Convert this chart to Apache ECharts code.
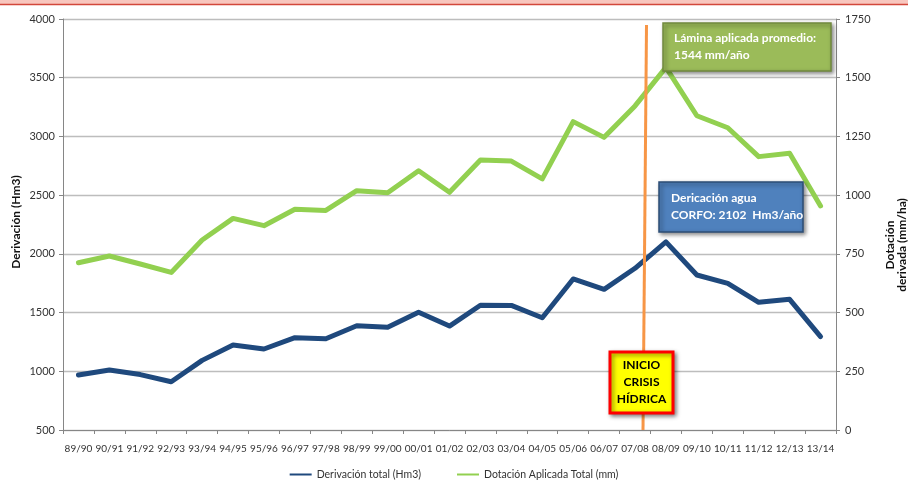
<!DOCTYPE html>
<html>
<head>
<meta charset="utf-8">
<script src="https://cdn.jsdelivr.net/npm/echarts@6/dist/echarts.min.js"></script>
<style>
  html, body { margin: 0; padding: 0; background: #fff; }
  #chart { width: 908px; height: 491px; }
</style>
</head>
<body>
<div id="chart"></div>
<script>
const seasons = [
  '89/90', '90/91', '91/92', '92/93', '93/94', '94/95', '95/96', '96/97', '97/98',
  '98/99', '99/00', '00/01', '01/02', '02/03', '03/04', '04/05', '05/06', '06/07',
  '07/08', '08/09', '09/10', '10/11', '11/12', '12/13', '13/14'
];
// Derivación total (Hm3), left axis
const derivacion = [
  968, 1011, 972, 911, 1093, 1224, 1190, 1286, 1277, 1388, 1374, 1502, 1385,
  1562, 1561, 1456, 1786, 1698, 1877, 2102, 1820, 1749, 1587, 1613, 1295
];
// Dotación Aplicada Total (mm), right axis
const dotacion = [
  712, 741, 707, 671, 809, 901, 870, 940, 935, 1019, 1010, 1104, 1012,
  1150, 1145, 1069, 1313, 1246, 1380, 1544, 1338, 1287, 1164, 1178, 954
];

const font = 'Lato, "Open Sans", sans-serif';
const chart = echarts.init(document.getElementById('chart'));

const shadow = {
  shadowBlur: 4,
  shadowOffsetX: 2,
  shadowOffsetY: 2,
  shadowColor: 'rgba(0,0,0,0.45)'
};

const option = {
  animation: false,
  textStyle: { fontFamily: font },
  grid: { left: 63, right: 72, top: 19, bottom: 61 },
  legend: {
    bottom: 6,
    left: 'center',
    icon: 'rect',
    itemWidth: 22,
    itemHeight: 2,
    itemGap: 36,
    textStyle: { fontSize: 10.5, color: '#333', fontFamily: font }
  },
  xAxis: {
    type: 'category',
    data: seasons,
    boundaryGap: true,
    axisLine: { lineStyle: { color: '#868686', width: 1 } },
    axisTick: { show: true, length: 4, lineStyle: { color: '#868686' } },
    axisLabel: { color: '#333', fontSize: 10, margin: 14, interval: 0 }
  },
  yAxis: [
    {
      type: 'value',
      min: 500,
      max: 4000,
      interval: 500,
      axisLine: { show: true, lineStyle: { color: '#868686' } },
      axisTick: { show: true, length: 4, lineStyle: { color: '#868686' } },
      axisLabel: { color: '#333', fontSize: 11, margin: 8, formatter: v => String(v) },
      splitLine: { lineStyle: { color: '#BDBDBD', width: 1.3 } }
    },
    {
      type: 'value',
      min: 0,
      max: 1750,
      interval: 250,
      position: 'right',
      axisLine: { show: true, lineStyle: { color: '#868686' } },
      axisTick: { show: true, length: 4, lineStyle: { color: '#868686' } },
      axisLabel: { color: '#333', fontSize: 11, margin: 9, formatter: v => String(v) },
      splitLine: { show: false }
    }
  ],
  series: [
    {
      name: 'Derivación total (Hm3)',
      type: 'line',
      yAxisIndex: 0,
      data: derivacion,
      symbol: 'none',
      lineStyle: { color: '#1F497D', width: 5, cap: 'round', join: 'round' },
      itemStyle: { color: '#1F497D' }
    },
    {
      name: 'Dotación Aplicada Total (mm)',
      type: 'line',
      yAxisIndex: 1,
      data: dotacion,
      symbol: 'none',
      lineStyle: { color: '#92D050', width: 5, cap: 'round', join: 'round' },
      itemStyle: { color: '#92D050' }
    }
  ],
  graphic: [
    // top banner strip
    { type: 'rect', left: 0, top: 0, shape: { width: 908, height: 4 }, style: { fill: '#F8C6BE' }, z: 100 },
    { type: 'line', shape: { x1: 0, y1: 4.5, x2: 908, y2: 4.5 }, style: { stroke: '#D2473B', lineWidth: 1.5 }, z: 100 },
    // axis titles
    {
      type: 'text', x: 16, y: 222, rotation: Math.PI / 2, z: 100,
      style: { text: 'Derivación (Hm3)', fontFamily: font, fontSize: 12, fontWeight: 'bold', fill: '#111', align: 'center', verticalAlign: 'middle' }
    },
    {
      type: 'text', x: 896, y: 245, rotation: Math.PI / 2, z: 100,
      style: { text: 'Dotación\nderivada (mm/ha)', fontFamily: font, fontSize: 12, fontWeight: 'bold', fill: '#111', align: 'center', verticalAlign: 'middle', lineHeight: 12 }
    },
    // crisis line
    { type: 'line', shape: { x1: 646.5, y1: 25, x2: 643, y2: 430 }, style: { stroke: '#F79646', lineWidth: 3 }, z: 100 },
    // average applied box
    {
      type: 'rect', shape: { x: 663, y: 23, width: 168, height: 48 }, z: 101,
      style: Object.assign({ fill: '#9BBB59', stroke: '#71893F', lineWidth: 1.5 }, shadow)
    },
    {
      type: 'text', x: 674, y: 47, z: 102,
      style: { text: 'Lámina aplicada promedio:\n1544 mm/año', fontFamily: font, fontSize: 12, fontWeight: 'bold', fill: '#fff', verticalAlign: 'middle', lineHeight: 17 }
    },
    // CORFO box
    {
      type: 'rect', shape: { x: 659, y: 182, width: 144, height: 50 }, z: 101,
      style: Object.assign({ fill: '#4F81BD', stroke: '#2C4D75', lineWidth: 1.5 }, shadow)
    },
    {
      type: 'text', x: 671, y: 207, z: 102,
      style: { text: 'Dericación agua\nCORFO: 2102  Hm3/año', fontFamily: font, fontSize: 12, fontWeight: 'bold', fill: '#fff', verticalAlign: 'middle', lineHeight: 17 }
    },
    // crisis box
    {
      type: 'rect', shape: { x: 610, y: 352, width: 63, height: 61 }, z: 101,
      style: Object.assign({ fill: '#FFFF00', stroke: '#FF0000', lineWidth: 3 }, shadow)
    },
    {
      type: 'text', x: 641.5, y: 382.5, z: 102,
      style: { text: 'INICIO\nCRISIS\nHÍDRICA', fontFamily: font, fontSize: 12, fontWeight: 'bold', fill: '#000', align: 'center', verticalAlign: 'middle', lineHeight: 17 }
    }
  ]
};

chart.setOption(option);
</script>
</body>
</html>
